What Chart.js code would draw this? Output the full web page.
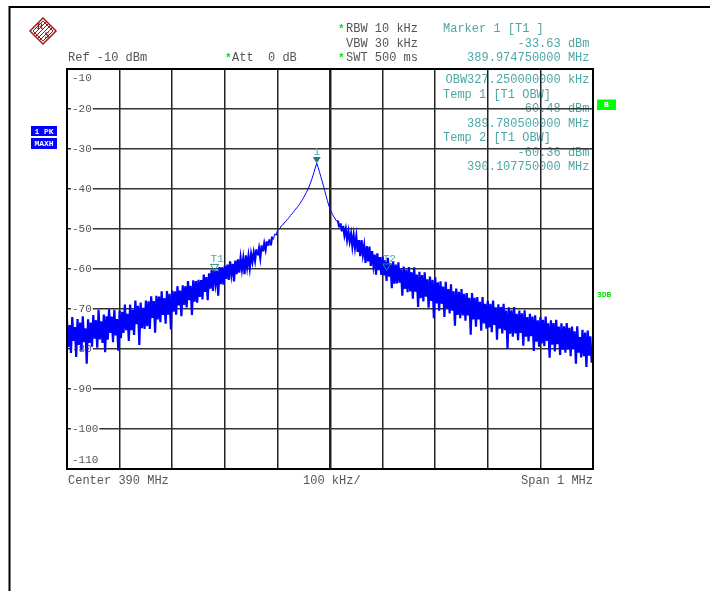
<!DOCTYPE html>
<html><head><meta charset="utf-8">
<script src="https://cdn.jsdelivr.net/npm/chart.js@4.4.1/dist/chart.umd.min.js"></script>
<style>html,body{margin:0;padding:0;background:#fff;}canvas{display:block;}</style>
</head><body>
<canvas id="c" width="710" height="591"></canvas>
<script>
// ---- data ----
const START_MHZ = 389.5;
const STEP_MHZ = 0.0025;
const traceDbm = [
-73.0,-79.5,-74.0,-81.0,-72.0,-78.0,-74.5,-82.0,-72.5,-79.0,-73.4,-80.4,-71.8,-78.3,-74.8,-83.7,-72.6,-78.5,-73.4,-79.4,
-71.5,-77.4,-72.8,-79.7,-70.2,-77.6,-73.1,-78.5,-71.4,-80.8,-71.8,-77.7,-70.1,-76.0,-71.9,-78.3,-70.2,-76.6,-72.5,-80.4,
-70.4,-77.3,-70.7,-76.0,-68.9,-75.3,-71.2,-78.0,-68.9,-75.3,-70.2,-76.5,-67.9,-73.8,-69.2,-79.0,-68.4,-74.8,-69.7,-75.0,
-67.9,-74.3,-68.1,-75.0,-66.8,-72.2,-68.0,-75.9,-66.7,-72.6,-66.9,-73.3,-65.6,-71.5,-67.3,-73.7,-65.5,-71.4,-66.2,-75.1,
-65.4,-70.7,-65.6,-71.4,-64.3,-69.1,-65.4,-71.8,-64.1,-69.0,-64.3,-69.6,-63.0,-67.8,-64.2,-71.5,-62.8,-68.2,-63.0,-68.4,
-62.7,-67.0,-62.8,-67.6,-61.4,-65.7,-62.0,-67.8,-61.1,-64.9,-60.2,-65.5,-60.3,-63.6,-60.4,-66.7,-59.5,-63.8,-59.6,-63.9,
-59.2,-62.5,-58.9,-62.7,-58.1,-61.4,-58.7,-63.1,-57.9,-61.3,-57.6,-60.9,-57.3,-60.1,-57.5,-61.3,-56.6,-59.5,-56.8,-59.7,
-56.3,-58.2,-55.9,-57.9,-55.1,-56.6,-54.8,-57.2,-54.1,-55.6,-53.6,-55.2,-53.1,-54.2,-52.6,-54.1,-51.9,-52.6,-51.2,-51.6,
-50.4,-50.0,-49.8,-49.2,-49.0,-48.5,-48.3,-47.8,-47.4,-47.1,-46.6,-46.2,-45.9,-45.4,-45.0,-44.6,-44.2,-43.7,-43.2,-42.7,
-42.1,-41.5,-40.9,-40.2,-39.5,-38.6,-37.7,-36.7,-35.6,-34.5,-33.6,-34.6,-35.7,-36.9,-38.0,-39.2,-40.4,-41.7,-42.9,-44.0,
-45.0,-45.7,-46.4,-47.0,-47.5,-48.0,-47.9,-49.6,-48.6,-50.6,-49.2,-51.6,-50.0,-52.7,-50.6,-53.1,-51.2,-54.3,-51.6,-54.6,
-51.9,-55.7,-52.8,-56.8,-52.8,-56.4,-54.2,-58.5,-54.3,-58.1,-54.4,-59.2,-55.5,-59.1,-56.4,-61.4,-56.1,-60.3,-57.0,-61.5,
-56.9,-61.6,-57.8,-63.0,-57.2,-61.9,-58.6,-64.8,-58.0,-63.7,-58.9,-63.6,-58.3,-63.4,-60.1,-66.7,-59.4,-65.0,-60.2,-65.8,
-59.5,-65.6,-60.8,-67.4,-59.6,-65.7,-61.4,-69.5,-60.7,-67.3,-61.5,-68.1,-60.8,-66.9,-62.6,-69.7,-61.9,-68.0,-62.7,-72.3,
-62.0,-68.6,-63.3,-70.4,-63.1,-68.7,-64.4,-72.0,-63.2,-69.8,-65.0,-71.1,-63.8,-70.4,-65.6,-74.2,-64.9,-71.5,-65.7,-72.3,
-65.0,-71.6,-66.2,-72.9,-66.0,-71.6,-67.2,-76.4,-66.0,-72.6,-67.2,-74.4,-67.0,-72.6,-68.2,-75.4,-67.0,-73.6,-68.7,-74.9,
-68.0,-74.6,-68.7,-75.8,-67.9,-74.0,-69.6,-77.7,-68.8,-74.9,-69.5,-76.1,-68.7,-75.3,-70.4,-80.0,-69.6,-76.2,-70.3,-76.9,
-69.5,-76.1,-71.2,-77.8,-70.4,-76.0,-71.1,-79.2,-70.3,-76.9,-72.0,-78.1,-71.2,-76.8,-71.9,-80.5,-71.6,-78.2,-72.8,-79.4,
-72.0,-78.6,-72.7,-79.3,-71.9,-78.0,-73.6,-82.2,-72.8,-78.9,-73.5,-80.6,-72.7,-78.8,-74.4,-81.5,-73.6,-80.2,-74.3,-80.9,
-73.5,-80.1,-74.7,-81.8,-74.4,-80.0,-75.6,-83.7,-74.3,-80.9,-77.0,-82.1,-75.2,-81.8,-75.9,-84.5,-75.4,-81.7,-76.8,-83.4,
-79.5
];
const yTickValues = [-10,-20,-30,-40,-50,-60,-70,-80,-90,-100,-110];
const yTickLabels = ['-10','-20','-30','-40','-50','-60','-70','-80','-90','-100','-110'];
const markerNames = ['1','T1','T2'];
const markerFreqs = [389.97475, 389.7805, 390.10775];
const markerLevels = [-33.63, -60.48, -60.36];
const headerLines = ['RBW 10 kHz','VBW 30 kHz','SWT 500 ms'];
const markerInfo = ['Marker 1 [T1 ]','-33.63 dBm','389.974750000 MHz'];
const obwInfo = ['OBW327.250000000 kHz','Temp 1 [T1 OBW]','-60.48 dBm','389.780500000 MHz','Temp 2 [T1 OBW]','-60.36 dBm','390.107750000 MHz'];
const footer = ['Center 390 MHz','100 kHz/','Span 1 MHz'];

// ---- styles ----
const MONO = '"Liberation Mono","DejaVu Sans Mono",monospace';
const TEAL = '#4ea6a6';
const GRAY = '#555555';
const GREEN = '#00e000';

function drawLogo(ctx, cx, cy) {
  ctx.save();
  ctx.translate(cx, cy);
  ctx.strokeStyle = '#9b1c1c';
  ctx.fillStyle = '#9b1c1c';
  ctx.lineWidth = 1.5;
  ctx.beginPath();
  ctx.moveTo(0,-13); ctx.lineTo(13,0); ctx.lineTo(0,13); ctx.lineTo(-13,0); ctx.closePath();
  ctx.stroke();
  ctx.lineWidth = 1;
  ctx.beginPath();
  ctx.moveTo(0,-10); ctx.lineTo(10,0); ctx.lineTo(0,10); ctx.lineTo(-10,0); ctx.closePath();
  ctx.stroke();
  ctx.beginPath();
  for (let k=-3;k<=3;k+=2){
    ctx.moveTo(-6+k, 6+k); ctx.lineTo(6+k, -6+k);
  }
  ctx.stroke();
  ctx.font = 'bold 9px "Liberation Serif",serif';
  ctx.textAlign='center'; ctx.textBaseline='middle';
  ctx.fillText('R', -3, -4);
  ctx.fillText('S', 4, 5);
  ctx.restore();
}

const decor = {
  id: 'decor',
  beforeDraw(chart) {
    const ctx = chart.ctx;
    ctx.save();
    ctx.fillStyle = '#fff';
    ctx.fillRect(0,0,chart.width,chart.height);
    ctx.strokeStyle = '#000'; ctx.lineWidth = 2;
    ctx.beginPath(); ctx.moveTo(9.5, 591); ctx.lineTo(9.5, 7); ctx.lineTo(710, 7); ctx.stroke();
    drawLogo(ctx, 43, 31);

    ctx.font = '12px ' + MONO;
    ctx.textBaseline = 'alphabetic';
    ctx.textAlign = 'left';
    ctx.fillStyle = GRAY;
    ctx.fillText('Ref -10 dBm', 68, 61);
    ctx.fillText('Att  0 dB', 232, 61);
    ctx.fillText(headerLines[0], 346, 32);
    ctx.fillText(headerLines[1], 346, 46.5);
    ctx.fillText(headerLines[2], 346, 61);
    ctx.fillStyle = GREEN;
    ctx.font = 'bold 11px ' + MONO;
    ctx.fillText('*', 225, 61);
    ctx.fillText('*', 338, 32);
    ctx.fillText('*', 338, 61);

    ctx.font = '12px ' + MONO;
    ctx.fillStyle = TEAL;
    ctx.fillText(markerInfo[0], 443, 32);
    ctx.textAlign = 'right';
    ctx.fillText(markerInfo[1], 589.5, 46.5);
    ctx.fillText(markerInfo[2], 589.5, 61);
    const bl = [83, 97.5, 112, 126.5, 141, 155.5, 170];
    obwInfo.forEach((t,i)=>{
      if (t.startsWith('Temp')) { ctx.textAlign='left'; ctx.fillText(t, 443, bl[i]); }
      else { ctx.textAlign='right'; ctx.fillText(t, 589.5, bl[i]); }
    });

    ctx.fillStyle = GRAY;
    ctx.textAlign='left';
    ctx.fillText(footer[0], 68, 484);
    ctx.fillText(footer[1], 303, 484);
    ctx.textAlign='right';
    ctx.fillText(footer[2], 593, 484);

    ctx.fillStyle = '#0000ff';
    ctx.fillRect(31, 126, 26, 10);
    ctx.fillRect(31, 138, 26, 11);
    ctx.fillStyle = '#fff';
    ctx.font = 'bold 8px ' + MONO;
    ctx.textAlign='center'; ctx.textBaseline='middle';
    ctx.fillText('1 PK', 44, 131.5);
    ctx.fillText('MAXH', 44, 144);
    ctx.fillStyle = '#00ff00';
    ctx.fillRect(597, 99.5, 19, 10.5);
    ctx.fillStyle = '#fff';
    ctx.fillText('B', 606.5, 105);
    ctx.fillStyle = GREEN;
    ctx.font = 'bold 8px ' + MONO;
    ctx.textAlign='left';
    ctx.fillText('3DB', 597, 294.5);
    ctx.restore();
  },
  beforeDatasetsDraw(chart) {
    const ctx = chart.ctx, ys = chart.scales.y, area = chart.chartArea;
    ctx.save();
    ctx.font = '11px ' + MONO;
    ctx.textBaseline = 'middle';
    ctx.textAlign = 'left';
    yTickValues.forEach((v,i)=>{
      let y = ys.getPixelForValue(v);
      if (i === 0) y = area.top + 9;
      if (i === yTickValues.length-1) y = area.bottom - 9;
      const t = yTickLabels[i];
      const w = ctx.measureText(t).width;
      ctx.fillStyle = '#fff';
      ctx.fillRect(71, y-4, w+2, 8);
      ctx.fillStyle = GRAY;
      ctx.fillText(t, 72, y+0.5);
    });
    ctx.restore();
  },
  afterDatasetsDraw(chart) {
    const ctx = chart.ctx, xs = chart.scales.x, ys = chart.scales.y;
    ctx.save();
    ctx.font = '11px ' + MONO;
    ctx.textBaseline = 'alphabetic';
    markerNames.forEach((n,i)=>{
      const px = xs.getPixelForValue(markerFreqs[i]);
      const py = ys.getPixelForValue(markerLevels[i]);
      ctx.beginPath();
      ctx.moveTo(px, py); ctx.lineTo(px-4, py-6.5); ctx.lineTo(px+4, py-6.5); ctx.closePath();
      if (i === 0) {
        ctx.fillStyle = '#1f7f80'; ctx.fill();
        ctx.fillStyle = TEAL; ctx.textAlign='center';
        ctx.fillText(n, px, py-8.5);
      } else {
        ctx.strokeStyle = '#1f8f90'; ctx.lineWidth = 1; ctx.stroke();
        ctx.fillStyle = TEAL; ctx.textAlign='left';
        ctx.fillText(n, px-4, py-8.5);
      }
    });
    ctx.restore();
  },
  afterDraw(chart) {
    const ctx = chart.ctx, a = chart.chartArea;
    ctx.save();
    ctx.strokeStyle = '#000'; ctx.lineWidth = 2;
    ctx.strokeRect(a.left, a.top, a.right-a.left, a.bottom-a.top);
    ctx.restore();
  }
};

const points = traceDbm.map((v,i)=>({x: START_MHZ + i*STEP_MHZ, y: v}));

new Chart(document.getElementById('c'), {
  type: 'line',
  data: { datasets: [{
    data: points, borderColor: '#0000ff', borderWidth: 1, pointRadius: 0, tension: 0, fill: false,
    segment: { borderWidth: s => Math.abs(s.p0.parsed.y - s.p1.parsed.y) > 1.6 ? 2.2 : 1 }
  }] },
  options: {
    responsive: false, animation: false, devicePixelRatio: 1,
    layout: { padding: { left: 67, top: 69, right: 117, bottom: 122 } },
    plugins: { legend: {display:false}, tooltip: {enabled:false} },
    scales: {
      x: {
        type: 'linear', min: 389.5, max: 390.5,
        ticks: { display:false, stepSize: 0.1 },
        grid: { color: '#222', drawTicks:false,
          lineWidth: c => (c.tick && Math.abs(c.tick.value-390) < 1e-6) ? 2.5 : 1.5 },
        border: { display:false },
        afterFit(s){ s.height = 0; }
      },
      y: {
        min: -110, max: -10,
        ticks: { display:false, stepSize: 10 },
        grid: { color: '#333', drawTicks:false, lineWidth: 1.5 },
        border: { display:false },
        afterFit(s){ s.width = 0; }
      }
    }
  },
  plugins: [decor]
});
</script>
</body></html>
